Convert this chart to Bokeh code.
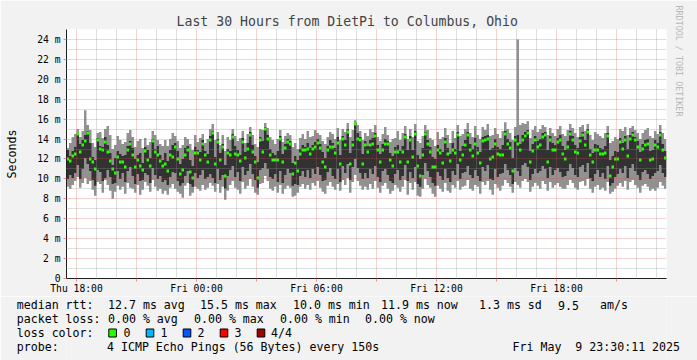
import math
from bokeh.plotting import figure
from bokeh.layouts import column
from bokeh.models import Range1d, FixedTicker, ColumnDataSource, Title, LinearAxis
from bokeh.core.properties import value
from bokeh.embed import file_html
from bokeh.resources import INLINE

# ---------------- data (ms), one value per 450 s column ----------------
ping_min = [
 9.2, 9.0, 9.4, 9.8, 10.2, 9.1, 9.6, 10.1, 9.5, 9.8, 8.9, 8.3, 9.7, 9.5, 8.6, 9.9, 9.4, 8.8, 8.0, 8.7, 9.3, 8.9, 9.2, 8.5, 9.6, 9.1, 9.0, 8.6, 9.4, 8.4, 8.9, 9.7, 9.3, 8.7, 9.9, 9.2, 8.8, 9.0, 8.5,
 8.8, 8.4, 9.1, 9.5, 9.0, 8.7, 8.5, 8.1, 9.3, 9.6, 8.3, 8.6, 9.2, 9.0, 8.8, 9.4, 8.9, 9.1, 9.6, 9.3, 8.7, 9.5, 8.6, 9.2, 7.9, 8.8, 9.4, 9.8, 9.1, 8.9, 8.5, 9.7, 9.0, 9.3, 10.0, 9.2, 8.6, 8.4, 9.5, 9.6,
 10.3, 9.8, 9.0, 8.8, 9.2, 8.6, 9.4, 8.5, 9.0, 9.3, 9.1, 8.2, 8.3, 8.6, 9.2, 9.5, 9.0, 9.4, 8.9, 9.6, 9.3, 9.8, 9.1, 8.7, 8.5, 9.3, 9.7, 9.2, 8.9, 9.5, 8.8, 9.9, 9.4, 10.1, 8.6, 9.7, 10.4, 9.8, 9.3, 8.9,
 9.2, 8.9, 9.5, 9.0, 9.8, 9.1, 8.6, 9.3, 9.6, 9.0, 8.5, 8.8, 9.4, 9.1, 8.7, 9.2, 9.9, 8.4, 9.6, 8.9, 9.7, 8.3, 8.2, 9.0, 10.0, 9.4, 9.1, 8.5, 8.2, 9.3, 9.0, 8.7, 9.6, 8.8, 8.6, 9.4, 9.1, 9.8, 8.9, 9.2,
 9.3, 9.9, 9.0, 8.8, 9.4, 9.2, 8.5, 9.7, 9.4, 9.8, 8.9, 8.4, 9.5, 9.1, 8.8, 9.3, 9.9, 9.6, 9.2, 8.6, 9.7, 9.4, 9.1, 9.8, 10.0, 9.7, 8.7, 9.2, 9.6, 9.3, 9.0, 9.8, 9.5, 8.8, 9.7, 9.1, 9.4, 9.6, 9.2, 9.0,
 9.0, 9.4, 9.9, 9.6, 9.1, 8.9, 9.7, 9.8, 9.3, 10.0, 9.0, 8.6, 9.2, 9.4, 8.9, 9.1, 8.8, 9.7, 8.5, 8.7, 9.0, 9.3, 9.6, 9.2, 9.8, 8.9, 9.7, 9.9, 9.4, 9.1, 8.6, 9.3, 9.5, 9.2, 8.8, 9.0, 8.8, 9.1, 9.7, 9.3, 9.0,
]
ping_low = [
 10.0, 10.4, 10.1, 10.6, 11.4, 10.0, 11.0, 12.1, 11.5, 10.8, 9.9, 9.3, 10.9, 10.7, 9.8, 10.1, 10.9, 10.2, 9.5, 9.6, 10.8, 10.0, 10.6, 9.7, 10.8, 11.2, 10.3, 9.5, 10.5, 9.8, 9.9, 10.6, 10.4, 9.6, 11.1, 10.4, 10.0, 10.3, 9.7,
 9.9, 9.4, 10.2, 10.7, 10.6, 9.8, 9.3, 9.6, 10.3, 10.8, 9.5, 9.2, 10.6, 10.1, 10.4, 10.9, 10.0, 10.2, 10.5, 10.1, 9.6, 11.0, 9.9, 10.4, 9.0, 10.3, 10.9, 11.3, 10.2, 10.7, 9.8, 11.2, 10.4, 10.8, 11.5, 10.5, 9.9, 9.1, 10.9, 11.1,
 11.6, 11.0, 10.2, 10.0, 10.5, 9.7, 10.8, 9.6, 10.4, 11.0, 10.6, 9.3, 9.5, 9.4, 10.3, 10.8, 10.2, 10.9, 10.1, 11.0, 10.5, 11.2, 10.4, 9.8, 9.9, 10.7, 11.1, 10.3, 10.0, 11.0, 9.7, 11.3, 10.6, 11.5, 9.9, 11.2, 12.0, 11.1, 10.6, 10.0,
 10.6, 10.1, 11.0, 10.5, 11.3, 10.2, 9.7, 10.8, 11.0, 10.4, 9.8, 9.6, 10.5, 10.9, 9.9, 10.3, 11.4, 9.8, 10.7, 10.1, 11.2, 9.5, 9.2, 10.4, 11.6, 10.8, 10.2, 9.6, 9.3, 10.7, 10.3, 9.9, 11.0, 10.1, 9.7, 10.8, 10.4, 11.5, 10.0, 10.6,
 10.7, 11.3, 10.4, 10.1, 10.9, 10.3, 9.8, 11.2, 10.8, 11.4, 10.0, 9.9, 11.0, 10.2, 10.5, 10.6, 11.5, 10.9, 10.4, 9.5, 11.1, 10.8, 10.3, 11.4, 11.6, 11.2, 9.9, 10.5, 11.0, 10.6, 10.8, 11.3, 11.0, 10.1, 11.2, 10.4, 10.9, 11.1, 10.7, 10.2,
 10.3, 10.8, 11.5, 11.1, 10.4, 10.2, 11.2, 11.4, 10.7, 11.6, 10.1, 9.8, 10.5, 10.9, 10.2, 10.6, 10.0, 11.3, 9.3, 9.6, 10.2, 10.5, 11.0, 10.6, 11.3, 10.1, 11.1, 11.5, 10.8, 10.4, 9.9, 10.7, 10.9, 10.5, 10.0, 10.3, 10.6, 10.8, 11.4, 10.6, 10.2,
]
median_rtt = [
 12.0, 11.8, 12.3, 12.5, 14.5, 12.7, 13.4, 13.8, 14.6, 12.0, 11.7, 11.0, 13.9, 13.0, 12.9, 13.7, 12.7, 11.8, 11.0, 10.6, 12.2, 11.7, 11.7, 11.2, 12.9, 13.5, 12.4, 11.2, 11.9, 11.3, 10.9, 12.8, 11.9, 11.3, 13.8, 12.7, 12.4, 11.8, 11.3,
 11.5, 10.8, 12.4, 12.2, 13.2, 12.0, 10.5, 10.9, 12.4, 12.9, 10.7, 10.1, 12.6, 12.6, 11.9, 13.5, 12.4, 11.7, 13.9, 14.6, 11.5, 13.7, 11.9, 13.2, 10.3, 12.6, 12.4, 14.2, 12.5, 12.4, 11.8, 13.7, 12.1, 13.0, 14.4, 12.7, 11.7, 10.1, 13.9, 12.7,
 15.0, 14.0, 12.4, 11.9, 11.9, 11.9, 14.0, 11.7, 13.1, 13.7, 13.5, 10.5, 11.6, 10.8, 12.5, 12.9, 12.9, 13.0, 12.5, 13.0, 13.2, 13.6, 13.1, 11.7, 11.2, 12.9, 13.2, 13.2, 12.6, 13.6, 11.5, 14.0, 13.4, 14.7, 11.5, 13.4, 15.5, 14.0, 13.9, 11.5,
 13.4, 12.7, 13.4, 13.5, 14.3, 12.9, 11.7, 12.9, 13.5, 13.5, 11.9, 11.3, 12.7, 12.7, 11.7, 12.7, 14.2, 11.7, 13.9, 12.2, 14.5, 11.3, 10.3, 12.4, 14.5, 13.5, 12.7, 11.2, 11.2, 12.9, 12.6, 11.6, 13.7, 12.5, 11.8, 12.9, 12.6, 14.4, 11.9, 12.4,
 13.4, 14.4, 12.9, 12.3, 13.5, 12.6, 11.6, 13.8, 13.9, 14.0, 12.0, 12.2, 13.5, 12.5, 12.4, 12.4, 14.5, 13.5, 13.1, 10.8, 13.9, 13.5, 12.9, 13.9, 14.3, 14.6, 11.7, 12.8, 13.9, 13.2, 13.4, 14.2, 14.4, 11.7, 13.9, 12.9, 12.9, 13.7, 13.9, 12.5,
 12.0, 13.2, 14.5, 13.9, 12.7, 12.6, 13.8, 14.4, 13.4, 14.7, 12.4, 11.7, 12.9, 12.9, 12.5, 12.5, 12.6, 14.3, 10.3, 11.2, 12.0, 12.0, 13.7, 13.0, 13.9, 12.3, 14.0, 14.4, 13.9, 13.2, 11.9, 13.0, 13.4, 13.5, 11.9, 12.0, 13.4, 13.2, 14.4, 12.9, 12.1,
]
ping_high = [
 12.9, 12.3, 12.8, 13.2, 14.6, 13.5, 13.9, 14.4, 14.8, 13.6, 12.2, 11.9, 14.1, 13.3, 13.2, 14.2, 13.4, 12.6, 11.4, 12.1, 12.8, 12.5, 12.3, 12.4, 13.3, 13.8, 13.1, 12.0, 12.4, 12.6, 11.6, 13.2, 12.9, 12.1, 14.0, 13.0, 13.3, 12.4, 11.9,
 12.6, 11.8, 12.9, 13.4, 13.6, 12.8, 11.5, 12.0, 13.1, 13.3, 11.9, 11.3, 13.2, 12.9, 12.7, 13.9, 12.8, 12.5, 14.3, 14.8, 12.2, 14.0, 12.6, 13.5, 11.4, 13.0, 12.8, 14.5, 13.3, 12.9, 12.4, 14.1, 12.7, 13.6, 14.7, 13.4, 12.3, 11.7, 14.2, 13.8,
 15.2, 14.4, 13.0, 12.6, 12.4, 12.8, 14.3, 12.5, 13.5, 14.0, 13.8, 11.6, 12.3, 11.9, 13.0, 13.4, 13.2, 13.6, 13.1, 13.4, 13.7, 14.0, 13.5, 12.7, 12.1, 13.3, 13.9, 13.6, 13.1, 14.2, 12.4, 14.3, 13.9, 15.0, 12.6, 13.8, 15.6, 14.6, 14.2, 12.5,
 13.8, 13.3, 13.9, 14.1, 14.6, 13.4, 12.5, 13.5, 14.0, 13.8, 12.6, 12.3, 13.2, 13.4, 12.8, 13.3, 14.5, 12.9, 14.3, 12.9, 14.8, 12.4, 12.0, 13.1, 14.7, 13.9, 13.2, 12.2, 12.0, 13.4, 13.0, 12.7, 14.1, 13.1, 12.5, 13.6, 13.0, 14.7, 12.8, 13.3,
 13.9, 14.7, 13.5, 13.0, 14.1, 13.2, 12.7, 14.2, 14.3, 14.4, 12.9, 13.1, 14.0, 13.2, 13.0, 13.4, 14.8, 14.0, 13.7, 12.1, 14.3, 14.4, 13.5, 14.4, 14.7, 14.9, 12.8, 13.5, 14.3, 13.8, 14.0, 14.6, 14.7, 12.9, 14.3, 13.6, 13.4, 14.1, 14.4, 13.3,
 12.9, 13.8, 14.8, 14.3, 13.4, 13.1, 14.2, 14.7, 13.9, 15.0, 13.0, 12.6, 13.5, 13.4, 13.1, 13.0, 13.3, 14.6, 11.9, 12.3, 12.8, 12.7, 14.1, 13.6, 14.3, 13.0, 14.4, 14.7, 14.2, 13.8, 12.7, 13.5, 13.9, 14.0, 12.8, 12.9, 13.9, 13.6, 14.7, 13.5, 12.8,
]
ping_max = [
 13.1, 13.6, 14.2, 14.5, 15.0, 14.2, 14.8, 16.9, 15.4, 14.9, 13.6, 13.2, 14.6, 14.7, 14.1, 15.0, 15.3, 14.4, 13.0, 13.4, 14.3, 13.9, 13.5, 13.7, 14.6, 14.9, 14.2, 13.2, 13.8, 14.0, 13.1, 14.1, 13.4, 13.7, 14.8, 14.4, 13.9, 13.5, 13.3,
 13.9, 13.3, 14.0, 14.6, 14.3, 13.8, 13.1, 13.4, 14.2, 14.0, 13.5, 12.9, 14.4, 13.7, 14.1, 14.5, 13.6, 14.0, 15.0, 15.5, 13.9, 14.7, 13.4, 14.4, 12.8, 14.2, 13.9, 15.0, 14.3, 13.8, 14.1, 14.8, 13.6, 14.5, 15.2, 14.4, 13.5, 13.2, 15.0, 14.9,
 15.6, 15.1, 14.2, 13.9, 13.5, 14.0, 14.9, 13.7, 14.3, 14.6, 14.4, 13.2, 13.6, 13.0, 14.1, 14.5, 14.0, 14.8, 14.2, 14.3, 14.9, 14.6, 14.4, 13.8, 13.5, 14.2, 14.7, 14.5, 14.0, 15.1, 13.9, 15.0, 14.7, 15.6, 14.2, 14.9, 15.9, 15.4, 14.8, 13.9,
 14.6, 14.3, 15.0, 14.7, 15.4, 14.2, 13.8, 14.5, 15.2, 14.4, 13.7, 14.0, 14.1, 14.8, 13.9, 14.6, 15.3, 14.0, 15.0, 14.2, 15.5, 13.8, 13.6, 14.3, 15.4, 14.9, 14.1, 13.9, 13.3, 14.7, 14.0, 14.2, 15.1, 14.4, 13.6, 14.8, 14.1, 15.4, 14.3, 14.5,
 15.0, 15.6, 14.6, 14.2, 15.3, 14.4, 14.0, 15.2, 14.9, 15.5, 14.3, 14.4, 15.1, 14.5, 14.1, 14.8, 15.7, 15.0, 14.6, 13.9, 15.2, 24.0, 15.4, 15.6, 15.5, 15.8, 14.1, 14.9, 15.3, 14.7, 15.0, 15.4, 15.2, 14.4, 15.1, 14.6, 14.3, 15.0, 15.3, 14.5,
 14.3, 14.9, 15.5, 15.1, 14.6, 14.2, 15.2, 15.4, 14.8, 15.5, 14.4, 13.9, 14.7, 14.5, 14.3, 14.1, 14.6, 15.3, 13.6, 13.8, 14.2, 14.0, 15.0, 14.8, 15.2, 14.4, 15.1, 15.3, 14.9, 14.6, 14.0, 14.6, 14.9, 15.1, 14.3, 14.1, 14.8, 14.5, 15.4, 14.6, 14.0,
]

start_hour = 17.5          # Thu 17:30 (hours since Thu 00:00)
end_hour = 47.5            # Fri 23:30
step_hours = 0.125         # 450 s per column
y_max = 25

x_tick_hours = [18, 24, 30, 36, 42]
x_tick_labels = ["Thu 18:00", "Fri 00:00", "Fri 06:00", "Fri 12:00", "Fri 18:00"]
y_tick_values = [0, 2, 4, 6, 8, 10, 12, 14, 16, 18, 20, 22, 24]
y_tick_labels = ["0", "2 m", "4 m", "6 m", "8 m", "10 m", "12 m", "14 m", "16 m", "18 m", "20 m", "22 m", "24 m"]

title_text = "Last 30 Hours from DietPi to Columbus, Ohio"
y_label = "Seconds"
watermark = "RRDTOOL / TOBI OETIKER"
row_heads = ["median rtt:", "packet loss:", "loss color:", "probe:"]
rtt_parts = ["12.7 ms avg", "15.5 ms max", "10.0 ms min", "11.9 ms now", "1.3 ms sd", "9.5", "am/s"]
loss_parts = ["0.00 % avg", "0.00 % max", "0.00 % min", "0.00 % now"]
loss_labels = ["0", "1", "2", "3", "4/4"]
loss_colors = ["#26ff00", "#00b8ff", "#0059ff", "#ff0000", "#a00000"]
probe_text = "4 ICMP Echo Pings (56 Bytes) every 150s"
date_text = "Fri May  9 23:30:11 2025"

# ---------------- styles ----------------
MONO = "DejaVu Sans Mono"
BG = "#f2f2f2"
GRID = "#8f8f8f"
MGRID = "#de4f4f"
AXIS = "#1f1f1f"
NBSP = "\u00a0"

# ---------------- main chart ----------------
n = min(len(ping_min), len(ping_low), len(median_rtt), len(ping_high), len(ping_max))
lefts = [start_hour + i * step_hours for i in range(n)]
xs = lefts + [lefts[-1] + step_hours]
def ext(a):
    a = list(a[:n])
    return a + [a[-1]]

src = ColumnDataSource(dict(x=xs, p1=ext(ping_min), p2=ext(ping_low), p3=ext(ping_high), p4=ext(ping_max)))
msrc = ColumnDataSource(dict(x=[l + step_hours / 2 for l in lefts], m=median_rtt[:n]))

p = figure(frame_width=600, frame_height=249,
           min_border_left=66, min_border_right=31, min_border_top=29, min_border_bottom=16,
           x_range=Range1d(start_hour, end_hour), y_range=Range1d(0, y_max),
           output_backend="svg", toolbar_location=None)
p.background_fill_color = "#ffffff"
p.border_fill_color = BG
p.outline_line_color = None

p.title.text = title_text
p.title.text_font = MONO
p.title.text_font_size = "13.2px"
p.title.text_font_style = "normal"
p.title.align = "left"
p.title.offset = 110
p.title.standoff = 2

p.varea_step(x="x", y1="p1", y2="p4", step_mode="after", source=src, fill_color="#919191")
p.varea_step(x="x", y1="p2", y2="p3", step_mode="after", source=src, fill_color="#323232")
p.rect(x="x", y="m", width=step_hours, height=3, height_units="screen", source=msrc,
       fill_color="#26ff00", line_color=None)

major_x = [h for h in range(18, 48) if h % 3 == 0]
minor_x = [h for h in range(18, 48) if h % 3 != 0]
p.xgrid.ticker = FixedTicker(ticks=major_x, minor_ticks=minor_x)
p.ygrid.ticker = FixedTicker(ticks=y_tick_values[1:], minor_ticks=list(range(1, y_max + 1, 2)))
for g in (p.xgrid, p.ygrid):
    g.grid_line_color = MGRID
    g.grid_line_alpha = 0.5
    g.grid_line_dash = "1 1"
    g.minor_grid_line_color = GRID
    g.minor_grid_line_alpha = 0.6
    g.minor_grid_line_dash = "1 1"
    g.level = "overlay"

p.xaxis.ticker = FixedTicker(ticks=x_tick_hours, minor_ticks=[21, 27, 33, 39, 45])
p.xaxis.major_label_overrides = {h: t for h, t in zip(x_tick_hours, x_tick_labels)}
p.yaxis.ticker = FixedTicker(ticks=y_tick_values, minor_ticks=[])
p.yaxis.major_label_overrides = {v: t for v, t in zip(y_tick_values, y_tick_labels)}
for ax in (p.xaxis, p.yaxis):
    ax.axis_line_color = AXIS
    ax.major_tick_line_color = MGRID
    ax.major_tick_line_alpha = 0.6
    ax.minor_tick_line_color = MGRID
    ax.minor_tick_line_alpha = 0.6
    ax.major_tick_in = 0
    ax.minor_tick_in = 0
    ax.major_tick_out = 3
    ax.minor_tick_out = 3
    ax.major_label_text_font = MONO
    ax.major_label_text_font_size = "9.7px"
    ax.major_label_text_color = "#000000"
p.xaxis.major_label_standoff = 1
p.yaxis.major_label_standoff = 3
p.yaxis.axis_label = y_label
p.yaxis.axis_label_text_font = MONO
p.yaxis.axis_label_text_font_size = "11.6px"
p.yaxis.axis_label_text_font_style = "normal"
p.yaxis.axis_label_text_color = "#000000"
p.yaxis.axis_label_standoff = 15

p.add_layout(Title(text=watermark, text_font=MONO, text_font_size="8.4px", text_font_style="normal",
                   text_color="#b8b8b8", align="left", vertical_align="top", offset=-24, standoff=10), "right")

# ---------------- legend strip: y in pixel rows of the page, x frame aligned with chart ----------------
row_mid = [302.5, 316.5, 330.3, 344.2]          # vertical centres of the four legend rows
q = figure(frame_width=600, frame_height=66,
           min_border_left=66, min_border_right=31, min_border_top=0, min_border_bottom=0,
           x_range=Range1d(66, 666), y_range=Range1d(360, 294),
           x_axis_location=None, y_axis_location="left",
           output_backend="svg", toolbar_location=None)
q.grid.visible = False
q.outline_line_color = None
q.background_fill_color = BG
q.border_fill_color = BG

width12 = max(len(h) for h in row_heads)
q.yaxis.ticker = FixedTicker(ticks=row_mid, minor_ticks=[])
q.yaxis.major_label_overrides = {m: h + NBSP * (width12 - len(h)) for m, h in zip(row_mid, row_heads)}
date_axis = LinearAxis(ticker=FixedTicker(ticks=[row_mid[3]], minor_ticks=[]),
                       major_label_overrides={row_mid[3]: date_text.replace(" ", NBSP)})
q.add_layout(date_axis, "right")
for ax in (q.yaxis[0], date_axis):
    ax.axis_line_color = None
    ax.major_tick_line_color = None
    ax.minor_tick_line_color = None
    ax.major_tick_in = 0
    ax.major_tick_out = 0
    ax.minor_tick_in = 0
    ax.minor_tick_out = 0
    ax.major_label_text_font = MONO
    ax.major_label_text_font_size = "11.6px"
    ax.major_label_text_color = "#000000"
q.yaxis[0].major_label_standoff = -34
date_axis.major_label_standoff = -154

txt_x, txt_y, txt_s = [], [], []
for t, x in zip(rtt_parts, [107.5, 199.5, 292.5, 380.5, 478.5, 557.5, 599.5]):
    txt_x.append(x); txt_y.append(row_mid[0]); txt_s.append(t)
for t, x in zip(loss_parts, [107.5, 193.5, 279.5, 364.5]):
    txt_x.append(x); txt_y.append(row_mid[1]); txt_s.append(t)
box_x = [108.3, 145.7, 182.7, 219.7, 256.7]
for t, x in zip(loss_labels, [123, 160, 197, 234, 270.5]):
    txt_x.append(x); txt_y.append(row_mid[2]); txt_s.append(t)
txt_x.append(106.5); txt_y.append(row_mid[3]); txt_s.append(probe_text)

q.quad(left=box_x, right=[b + 7.6 for b in box_x], top=[326.5] * 5, bottom=[334.5] * 5,
       fill_color=loss_colors, line_color="#000000", line_width=1)
q.text(x=txt_x, y=txt_y, text=txt_s, text_font=value(MONO), text_font_size=value("11.6px"),
       text_baseline="middle", text_align="left", text_color="#000000")

layout = column(p, q, spacing=0)
open("out.html", "w").write(file_html(layout, INLINE))
